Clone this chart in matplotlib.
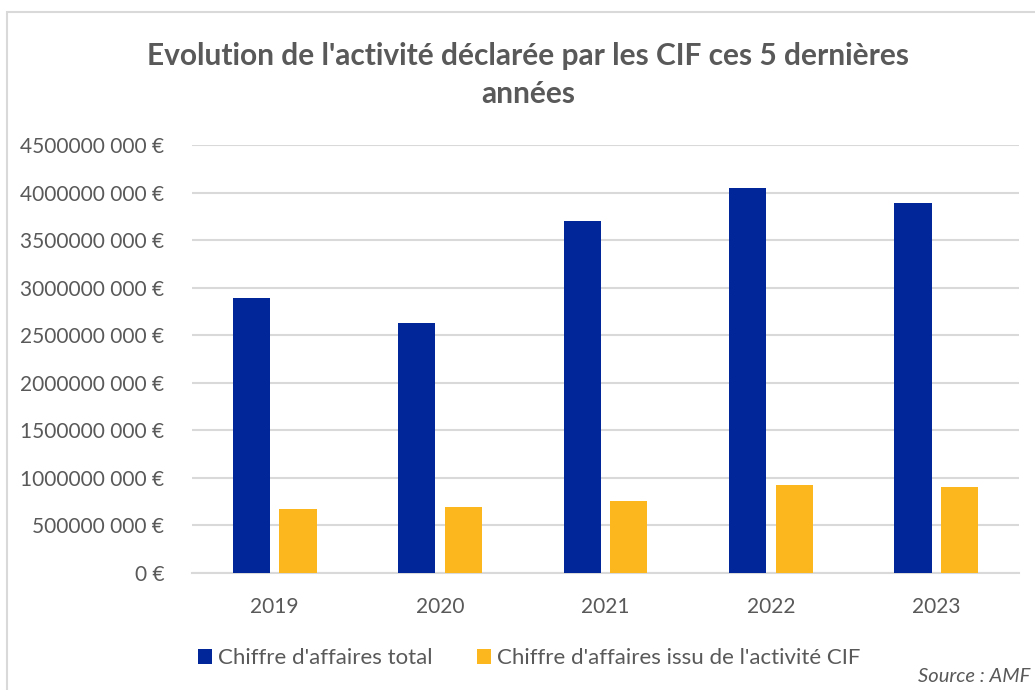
import matplotlib
matplotlib.use("Agg")
import matplotlib.pyplot as plt
from matplotlib.patches import Rectangle
import numpy as np

years = ["2019", "2020", "2021", "2022", "2023"]
ca_total = [2.89e9, 2.63e9, 3.70e9, 4.05e9, 3.89e9]
ca_cif = [0.675e9, 0.69e9, 0.76e9, 0.93e9, 0.90e9]
ytick_vals = [0, 0.5e9, 1.0e9, 1.5e9, 2.0e9, 2.5e9, 3.0e9, 3.5e9, 4.0e9, 4.5e9]
ytick_labels = ["0 €", "500000 000 €", "1000000 000 €", "1500000 000 €", "2000000 000 €",
                "2500000 000 €", "3000000 000 €", "3500000 000 €", "4000000 000 €", "4500000 000 €"]
series_names = ["Chiffre d'affaires total", "Chiffre d'affaires issu de l'activité CIF"]
title = "Evolution de l'activité déclarée par les CIF ces 5 dernières\nannées"

NAVY = "#002699"
ORANGE = "#FDB71E"
TXT = "#595959"
GRID = "#D9D9D9"

plt.rcParams['font.family'] = ['Lato', 'DejaVu Sans']

fig = plt.figure(figsize=(10.35, 6.9), dpi=100)
ax = fig.add_axes([192/1035, 1 - 573/690, (1019 - 192)/1035, (573 - 145)/690])

x = np.arange(len(years))
w = 0.224
off = 0.141
ax.bar(x - off, ca_total, w, color=NAVY, label=series_names[0], zorder=3)
ax.bar(x + off, ca_cif, w, color=ORANGE, label=series_names[1], zorder=3)

ax.set_xlim(-0.5, len(years) - 0.5)
ax.set_ylim(0, 4.5e9)
ax.set_yticks(ytick_vals)
ax.set_yticklabels(ytick_labels)
ax.set_xticks(x)
ax.set_xticklabels(years)
ax.tick_params(axis='both', length=0, labelsize=15, colors=TXT)
ax.tick_params(axis='y', pad=20)
ax.tick_params(axis='x', pad=17)
ax.grid(axis='y', color=GRID, linewidth=1.5, zorder=0)
for s in ['top', 'right', 'left']:
    ax.spines[s].set_visible(False)
ax.spines['bottom'].set_color(GRID)
ax.spines['bottom'].set_linewidth(1.5)

fig.text(0.51, 1 - 75/690, title, ha='center', va='center', fontsize=21.5, fontweight='bold',
         color=TXT, linespacing=1.45)

leg = fig.legend(loc='center', bbox_to_anchor=(529/1035, 1 - 658/690), ncol=2, frameon=False,
                 fontsize=16, handlelength=0.65, handleheight=0.65, handletextpad=0.25,
                 columnspacing=2.0, labelcolor=TXT)

fig.text(1030/1035, 1 - 677/690, "Source : AMF", ha='right', va='center', fontsize=14.5,
         style='italic', color=TXT)

fig.patches.append(Rectangle((7/1035, -0.01), 1.1, 1 - 12/690 + 0.01, transform=fig.transFigure,
                             fill=False, edgecolor=GRID, linewidth=1.5))

fig.savefig("out.png", dpi=100)
